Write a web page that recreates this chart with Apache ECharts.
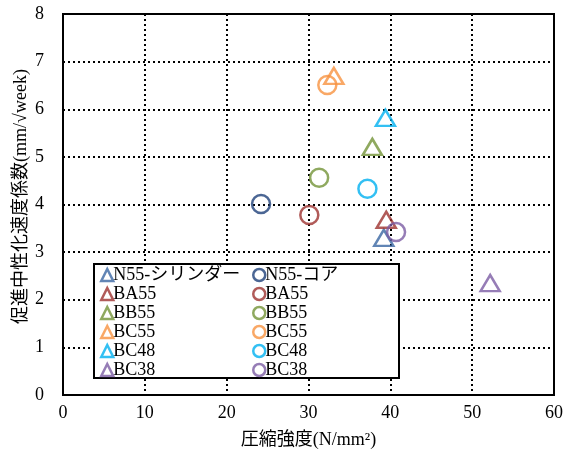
<!DOCTYPE html>
<html><head><meta charset="utf-8">
<script src="https://cdn.jsdelivr.net/npm/echarts@6/dist/echarts.min.js"></script>
<style>html,body{margin:0;padding:0;background:#fff}#c{width:564px;height:457px}</style>
</head><body><div id="c"></div>
<script>
const names = ['N55-シリンダー','BA55','BB55','BC55','BC48','BC38'];
const circleNames = ['N55-コア','BA55','BB55','BC55','BC48','BC38'];
const triColors = ['#3A66A3','#9E3230','#739337','#F79240','#00B0F0','#7C5DA4'];
const circColors = ['#1E4079','#9E3230','#739337','#F79240','#00B0F0','#7C5DA4'];
// [compressive strength, coefficient]
const cylinderData = [[39.2,3.30],[39.5,3.68],[37.8,5.21],[33.1,6.70],[39.4,5.82],[52.2,2.35]];
const coreData = [[24.2,4.01],[30.1,3.78],[31.3,4.56],[32.3,6.51],[37.2,4.33],[40.7,3.42]];
const xTicks = [0,10,20,30,40,50,60];
const yTicks = [0,1,2,3,4,5,6,7,8];

const FONT = '"Liberation Serif","Times New Roman","Noto Sans CJK JP",serif';
const series = [];
names.forEach((n,i)=>{
  series.push({name:n, type:'scatter', symbol:'triangle', symbolSize:[19,16],
    data:[cylinderData[i]],
    itemStyle:{color:'rgba(255,255,255,0)', borderColor:triColors[i], borderWidth:2.5}, z:3});
});
circleNames.forEach((n,i)=>{
  series.push({name:n+'_c', type:'scatter', symbol:'circle', symbolSize:18,
    data:[coreData[i]],
    itemStyle:{color:'rgba(255,255,255,0)', borderColor:circColors[i], borderWidth:2.5}, z:3});
});
const chart = echarts.init(document.getElementById('c'));
const legendCommon = {orient:'vertical', top:266, itemWidth:12, itemHeight:12, itemGap:1,
  itemStyle:{borderWidth:2.5},
  textStyle:{fontFamily:FONT, fontSize:18, lineHeight:17, color:'#000', padding:[0,0,0,-5]},
  formatter:n=>n.replace(/_c$/,''), selectedMode:false, padding:0};
chart.setOption({
  animation:false,
  grid:{left:63, right:10, top:14, bottom:62, outerBoundsMode:'none', containLabel:false},
  xAxis:{type:'value', min:xTicks[0], max:xTicks[xTicks.length-1], interval:10,
    name:'圧縮強度(N/mm²)', nameLocation:'middle', nameGap:36, nameMoveOverlap:false,
    nameTextStyle:{fontFamily:FONT, fontSize:18, color:'#000'},
    axisLine:{show:true, lineStyle:{color:'#000', width:2}}, axisTick:{show:false},
    axisLabel:{fontFamily:FONT, fontSize:18, color:'#000', margin:9},
    splitLine:{show:true, lineStyle:{color:'#000', width:2, type:[2,3]}}},
  yAxis:{type:'value', min:yTicks[0], max:yTicks[yTicks.length-1], interval:1,
    name:'促進中性化速度係数(mm/√week)', nameLocation:'middle', nameGap:33, nameMoveOverlap:false,
    nameTextStyle:{fontFamily:FONT, fontSize:18, color:'#000', padding:[0,0,0,16]},
    axisLine:{show:true, lineStyle:{color:'#000', width:2}}, axisTick:{show:false},
    axisLabel:{fontFamily:FONT, fontSize:18, color:'#000', margin:19},
    splitLine:{show:true, lineStyle:{color:'#000', width:2, type:[2,3]}}},
  legend:[
    Object.assign({}, legendCommon, {left:100, data:names}),
    Object.assign({}, legendCommon, {left:252, data:circleNames.map(n=>n+'_c')})
  ],
  graphic:[
    {type:'rect', shape:{x:94, y:264, width:305, height:114}, style:{fill:'#fff', stroke:'#000', lineWidth:2}, z:1},
    {type:'rect', shape:{x:63, y:14, width:491, height:381}, style:{fill:'none', stroke:'#000', lineWidth:2}, z:2, silent:true}
  ],
  series
});
</script></body></html>
